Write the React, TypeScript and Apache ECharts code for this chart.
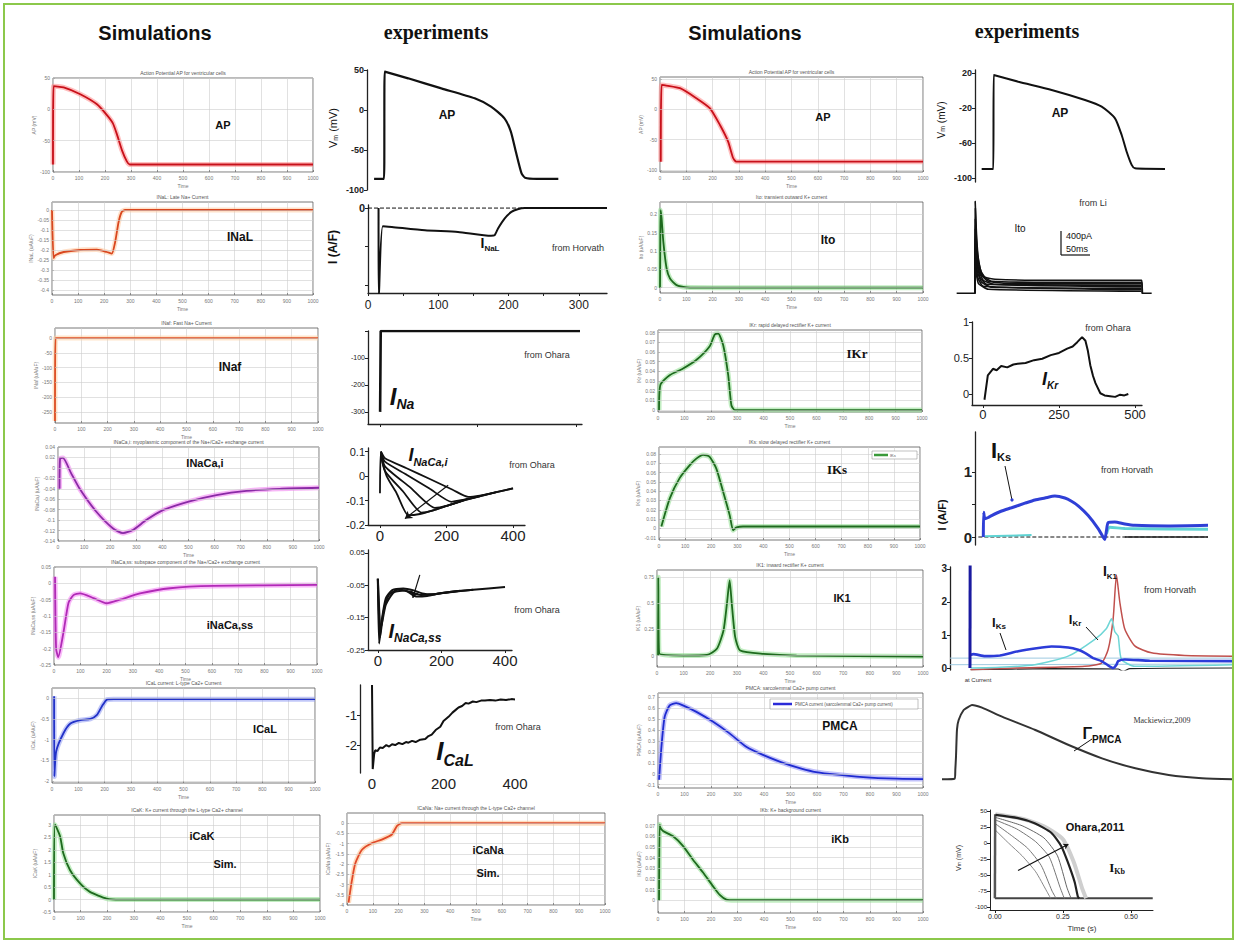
import { useEffect, useRef } from "react";
import * as echarts from "echarts";

// ================= DATA =================
// ---- Simulations, column 1 & 2 (time in ms) ----
const apSimT = [0, 2, 41, 105, 169, 205, 230, 246, 265, 284, 295, 1000];
const apSimV = [-88, 37, 35, 24, 8, -8, -22, -40, -65, -83, -88, -88];
const apSimTicks = [-100, -50, 0, 50];

const inalSimT = [0, 6, 13, 45, 108, 172, 210, 229, 242, 255, 267, 280, 1000];
const inalSimV = [0, -0.24, -0.226, -0.21, -0.2, -0.198, -0.21, -0.218, -0.16, -0.061, -0.01, 0, 0];
const inalSimTicks = [-0.4, -0.35, -0.3, -0.25, -0.2, -0.15, -0.1, -0.05, 0];

const inafSimT = [0, 2, 1000];
const inafSimV = [-280, 0, 0];
const inafSimTicks = [-250, -200, -150, -100, -50, 0];

const nacaiSimT = [6, 8, 19, 50, 83, 147, 211, 249, 287, 338, 402, 504, 607, 722, 849, 1000];
const nacaiSimV = [-0.04, 0.018, 0.019, -0.01, -0.04, -0.084, -0.116, -0.125, -0.119, -0.1, -0.081, -0.064, -0.052, -0.044, -0.04, -0.038];
const nacaiSimTicks = [-0.14, -0.12, -0.1, -0.08, -0.06, -0.04, -0.02, 0, 0.02, 0.04];

const nacassSimT = [4, 8, 16, 36, 55, 74, 99, 150, 200, 251, 327, 442, 607, 1000];
const nacassSimV = [0.02, -0.2, -0.226, -0.15, -0.06, -0.036, -0.031, -0.045, -0.061, -0.05, -0.031, -0.015, -0.008, -0.005];
const nacassSimTicks = [-0.25, -0.2, -0.15, -0.1, -0.05, 0, 0.05];

const icalSimT = [8, 9, 16, 44, 70, 108, 146, 171, 190, 209, 234, 1000];
const icalSimV = [0.05, -1.89, -1.28, -0.84, -0.61, -0.53, -0.5, -0.4, -0.19, -0.03, -0.02, -0.02];
const icalSimTicks = [-2, -1.5, -1, -0.5, 0];

const icakSimT = [0, 4, 23, 35, 60, 98, 135, 198, 250, 1000];
const icakSimV = [0, 3.01, 2.54, 1.86, 1.19, 0.65, 0.31, 0.04, 0, 0];
const icakSimTicks = [-0.5, 0, 0.5, 1, 1.5, 2, 2.5, 3];

const icanaSimT = [6, 19, 32, 58, 97, 135, 174, 194, 213, 1000];
const icanaSimV = [-3.88, -2.8, -1.97, -1.3, -0.97, -0.8, -0.55, -0.13, 0, 0];
const icanaSimTicks = [-4, -3.5, -3, -2.5, -2, -1.5, -1, -0.5, 0];

// ---- Simulations, column 3 ----
const ap3SimT = [3, 6, 76, 139, 190, 228, 259, 278, 290, 1000];
const ap3SimV = [-86, 40, 34.6, 18, 1.6, -25.8, -53, -80, -86, -86];

const itoSimT = [0, 1, 2.5, 6, 12.7, 25, 38, 63, 101, 200, 1000];
const itoSimV = [0, 0.1, 0.212, 0.19, 0.125, 0.053, 0.025, 0.007, 0.001, 0, 0];
const itoSimTicks = [0, 0.05, 0.1, 0.15, 0.2];

const ikrSimT = [4, 9, 44, 95, 146, 196, 215, 228, 247, 266, 278, 291, 1000];
const ikrSimV = [0, 0.026, 0.036, 0.043, 0.052, 0.066, 0.078, 0.079, 0.067, 0.036, 0.005, 0, 0];
const ikrSimTicks = [0, 0.01, 0.02, 0.03, 0.04, 0.05, 0.06, 0.07, 0.08];

const iksSimT = [9, 41, 79, 118, 143, 169, 194, 220, 246, 271, 284, 297, 322, 1000];
const iksSimV = [0.002, 0.032, 0.054, 0.068, 0.075, 0.079, 0.077, 0.064, 0.039, 0.014, -0.002, 0.001, 0.002, 0.002];
const iksSimTicks = [-0.01, 0, 0.01, 0.02, 0.03, 0.04, 0.05, 0.06, 0.07, 0.08];

const ik1SimT = [4, 5, 8, 100, 188, 225, 250, 263, 273, 281, 294, 313, 400, 525, 1000];
const ik1SimV = [0, 0.75, 0.02, 0, 0.005, 0.064, 0.24, 0.5, 0.72, 0.5, 0.176, 0.048, 0.016, 0, -0.01];
const ik1SimTicks = [0, 0.25, 0.5, 0.75];

const pmcaSimT = [4, 13, 25, 44, 69, 94, 145, 208, 270, 333, 396, 459, 522, 585, 648, 774, 899, 1000];
const pmcaSimV = [-0.055, 0.248, 0.52, 0.627, 0.648, 0.627, 0.567, 0.476, 0.37, 0.248, 0.173, 0.112, 0.061, 0.021, 0, -0.03, -0.045, -0.048];
const pmcaSimTicks = [-0.1, 0, 0.1, 0.2, 0.3, 0.4, 0.5, 0.6, 0.7];

const ikbSimT = [4, 6, 9, 19, 57, 94, 132, 170, 208, 233, 258, 290, 1000];
const ikbSimV = [0, 0.071, 0.068, 0.065, 0.06, 0.051, 0.038, 0.026, 0.013, 0.005, 0.0006, 0, 0];
const ikbSimTicks = [0, 0.01, 0.02, 0.03, 0.04, 0.05, 0.06, 0.07];

// ---- Experiments, column 2 ----
const apExp1 = [[10, -86], [24, -86], [25, 48], [58, 39.6], [105, 27], [152, 14.6], [175, 4.2], [194, -10.4], [203, -27], [210, -52], [218, -79], [223, -84.6], [240, -86], [270, -86]];
const apExp1Ticks = [-100, -50, 0, 50];

const inalExp = [[15, 0], [15.5, -2.3], [21, -0.47], [34, -0.49], [81, -0.58], [128, -0.62], [175, -0.72], [180, -0.71], [185, -0.53], [194, -0.28], [204, -0.1], [213, -0.03], [223, 0], [340, 0]];
const inalExpZero = [[0, 0], [340, 0]];
const inalExpXTicks = [0, 50, 100, 150, 200, 250, 300];
const inalExpXLabels = [0, 100, 200, 300];

const inaExp = [[0, -300], [0.3, 0], [99, 0]];
const inaExpYLabels = [-300, -200, -100];

const nacaiExp1 = [[0, -0.07], [3, 0.1], [15, 0.073], [80, 0.032], [150, -0.012], [220, -0.057], [265, -0.085], [300, -0.08], [350, -0.066], [400, -0.05]];
const nacaiExp2 = [[3, 0.1], [15, 0.059], [80, 0.006], [150, -0.052], [215, -0.105], [250, -0.097], [300, -0.082], [350, -0.066], [400, -0.05]];
const nacaiExp3 = [[3, 0.1], [15, 0.04], [90, -0.045], [165, -0.13], [200, -0.122], [250, -0.1], [300, -0.083], [350, -0.066]];
const nacaiExp4 = [[3, 0.09], [15, 0.021], [70, -0.064], [125, -0.149], [160, -0.14], [200, -0.122], [250, -0.1], [300, -0.083]];
const nacaiExp5 = [[3, 0.08], [20, 0.0], [50, -0.07], [85, -0.16], [120, -0.155], [160, -0.14], [200, -0.122], [250, -0.1]];
const nacaiExpYTicks = [-0.2, -0.1, 0, 0.1];
const msTicks = [0, 200, 400];

const nacassExp1 = [[0, -0.03], [4, -0.23], [12, -0.16], [25, -0.09], [45, -0.065], [80, -0.06], [110, -0.065], [140, -0.075], [170, -0.078], [220, -0.072], [300, -0.064], [400, -0.055]];
const nacassExp2 = [[0, -0.03], [7, -0.21], [18, -0.13], [35, -0.08], [65, -0.063], [100, -0.07], [135, -0.08], [175, -0.078], [230, -0.07], [300, -0.064]];
const nacassExp3 = [[0, -0.03], [10, -0.18], [25, -0.11], [50, -0.072], [85, -0.066], [120, -0.085], [155, -0.083], [200, -0.074], [260, -0.067]];
const nacassExpYTicks = [-0.25, -0.15, -0.05, 0.05];

const icalExp = [[0, 0], [2, -2.8], [6, -2.3], [9, -2.17], [15, -2.2], [22, -2.08], [30, -2.1], [40, -2.0], [48, -2.05], [56, -1.97], [65, -2.0], [75, -1.93], [85, -1.97], [95, -1.9], [102, -1.92], [112, -1.86], [122, -1.9], [135, -1.82], [149, -1.8], [158, -1.7], [167, -1.65], [178, -1.5], [191, -1.39], [200, -1.2], [214, -1.06], [225, -0.92], [235, -0.82], [242, -0.75], [252, -0.7], [262, -0.6], [270, -0.62], [282, -0.55], [292, -0.57], [305, -0.52], [316, -0.52], [330, -0.5], [345, -0.52], [360, -0.48], [375, -0.5], [390, -0.47], [400, -0.48]];
const icalExpYTicks = [-2, -1];

// ---- Experiments, column 4 ----
const apExp2 = [[20, -89.7], [55, -89.7], [56, 17.7], [130, 10], [230, 0.6], [330, -10.9], [380, -18.5], [420, -31.8], [440, -50.9], [455, -70], [470, -85], [480, -89], [570, -89.7]];
const apExp2Ticks = [-100, -60, -20, 20];

const itoExpBase = [[5, 0], [60, 0]];
const itoExpTail = [[560, 0], [590, 0]];
const itoExp1 = [[60, 0], [60.5, 92], [63, 70], [66, 50], [70, 35], [78, 22], [90, 16], [120, 14], [300, 13], [560, 13], [562, 0]];
const itoExp2 = [[60, 0], [61, 85], [64, 55], [68, 38], [75, 25], [85, 17], [110, 12], [300, 11], [560, 11], [562, 0]];
const itoExp3 = [[60, 0], [61, 75], [65, 45], [70, 30], [80, 18], [100, 12], [150, 10], [560, 9.5]];
const itoExp4 = [[60, 0], [61, 65], [65, 38], [72, 22], [85, 13], [120, 9], [560, 8]];
const itoExp5 = [[60, 0], [61, 55], [66, 30], [75, 16], [95, 9], [560, 6.5]];
const itoExp6 = [[60, 0], [61, 45], [67, 22], [80, 11], [110, 6], [560, 5]];
const itoExp7 = [[60, 0], [61, 35], [68, 16], [85, 7], [560, 3.5]];
const itoExp8 = [[60, 0], [61, 25], [70, 10], [100, 4], [560, 2]];

const ikrExp = [[5, -0.08], [16, 0.26], [33, 0.35], [45, 0.33], [60, 0.39], [80, 0.37], [100, 0.41], [114, 0.42], [140, 0.43], [168, 0.47], [195, 0.49], [223, 0.54], [250, 0.57], [277, 0.63], [295, 0.66], [310, 0.72], [326, 0.79], [337, 0.74], [345, 0.6], [353, 0.4], [362, 0.25], [370, 0.15], [386, 0.01], [400, -0.02], [418, -0.03], [435, -0.04], [451, -0.01], [465, -0.02], [478, 0]];
const ikrExpXTicks = [0, 250, 500];
const ikrExpYTicks = [0, 0.5, 1];

const iksExpBlue = [[25, 0], [26, 0.38], [30, 0.28], [40, 0.3], [50, 0.33], [80, 0.4], [110, 0.45], [150, 0.52], [180, 0.57], [210, 0.6], [240, 0.63], [270, 0.6], [290, 0.55], [310, 0.48], [340, 0.33], [370, 0.13], [385, 0.0], [390, -0.04], [395, 0.1], [400, 0.22], [420, 0.23], [450, 0.2], [480, 0.18], [580, 0.17], [700, 0.18]];
const iksExpCyan = [[395, 0.05], [405, 0.15], [450, 0.13], [700, 0.12]];
const iksExpCyanStart = [[30, 0.01], [170, 0.03]];
const iksExpBlack = [[450, 0.0], [700, 0.0]];
const iksExpZero = [[10, 0], [700, 0]];
const iksExpYTicks = [0, 0.5, 1];
const iksExpYLabels = [0, 1];

const ik1ExpSpike = [[60, 0], [60.5, 3.2]];
const ik1ExpKs = [[62, 0.4], [70, 0.42], [105, 0.36], [150, 0.38], [205, 0.51], [260, 0.6], [305, 0.65], [355, 0.62], [385, 0.55], [405, 0.46], [430, 0.3], [455, 0.21], [475, 0.08], [490, 0], [500, 0.1], [505, 0.21], [525, 0.26], [600, 0.22], [850, 0.21]];
const ik1ExpKr = [[62, 0.0], [150, 0.02], [255, 0.1], [355, 0.36], [435, 0.87], [470, 1.2], [485, 1.49], [495, 1.1], [505, 0.97], [515, 0.26], [555, 0.05], [850, 0.1]];
const ik1ExpK1 = [[62, -0.05], [200, 0.0], [405, 0.05], [455, 0.15], [475, 0.56], [490, 1.49], [500, 2.82], [510, 2.0], [525, 1.18], [555, 0.67], [605, 0.46], [705, 0.38], [850, 0.36]];
const ik1ExpBlack = [[62, -0.05], [300, -0.02], [505, -0.03], [520, -0.1], [540, -0.02], [850, 0.0]];
const ik1ExpFaint1 = [[0, 0.3], [850, 0.3]];
const ik1ExpFaint2 = [[0, 0.1], [850, 0.12]];
const ik1ExpTicks = [0, 1, 2, 3];

const pmcaExp = [[0, 0], [38, 2], [40, 30], [42, 68], [45, 150], [50, 178], [65, 208], [80, 218], [90, 223], [120, 215], [180, 188], [280, 148], [380, 103], [480, 63], [580, 33], [680, 13], [780, 3], [873, 0]];

const ikbExpBase = [[0, -86.5], [0.58, -86.5]];
const ikbExpUp = [[0, -86.5], [0.001, 45]];
const ikbExpHalo = [[0.002, 45], [0.1, 38], [0.18, 26], [0.25, 6], [0.29, -30], [0.32, -70], [0.335, -86.5]];
const ikbExpThick = [[0.002, 44], [0.085, 39], [0.146, 31], [0.207, 16], [0.244, -5], [0.268, -30], [0.293, -61], [0.305, -84], [0.31, -86.5]];
const ikbExpG1 = [[0.002, 20], [0.05, 0], [0.1, -20], [0.15, -45], [0.19, -75], [0.205, -86.5]];
const ikbExpG2 = [[0.002, 30], [0.06, 12], [0.12, -8], [0.17, -35], [0.21, -75], [0.225, -86.5]];
const ikbExpG3 = [[0.002, 36], [0.08, 22], [0.15, 2], [0.2, -22], [0.24, -70], [0.255, -86.5]];
const ikbExpG4 = [[0.002, 40], [0.1, 27], [0.18, 8], [0.23, -20], [0.265, -70], [0.28, -86.5]];
const ikbExpXTicks = [0, 0.25, 0.5];
const ikbExpYTicks = [-100, -75, -50, -25, 0, 25, 50];

// ================= BUILD =================
const zip = (x: number[], y: number[]) => x.map((v, i) => [v, y[i]]);
const SANS = "Liberation Sans, Arial, sans-serif";
const SERIF = "Liberation Serif, Times New Roman, serif";

function buildOption() {
  const grids: any[] = [];
  const xAxes: any[] = [];
  const yAxes: any[] = [];
  const series: any[] = [];
  const graphics: any[] = [];

  const txt = (x: number, y: number, text: string, o: any = {}) => {
    graphics.push({
      type: "text", x, y, rotation: o.rot || 0, z: 100, silent: true,
      style: {
        text, fill: o.color || "#111", fontSize: o.fs || 10, fontWeight: o.fw || "normal",
        fontStyle: o.it ? "italic" : "normal", fontFamily: o.ff || SANS,
        textAlign: o.align || "center", align: o.align || "center",
        textVerticalAlign: "middle", verticalAlign: "middle", rich: o.rich,
      },
    });
  };
  const subTxt = (x: number, y: number, main: string, s: string, big: number, small: number, o: any = {}) => {
    const base = { fontWeight: "bold", fontStyle: o.it ? "italic" : "normal", fontFamily: o.ff || SANS, fill: "#111", color: "#111" };
    txt(x, y, `{a|${main}}{b|${s}}`, {
      ...o,
      rich: {
        a: { ...base, fontSize: big, lineHeight: big, verticalAlign: "top" },
        b: { ...base, fontSize: small, lineHeight: small, verticalAlign: "top", padding: [Math.round(big * 0.55), 0, 0, 0] },
      },
    });
  };
  const gline = (x1: number, y1: number, x2: number, y2: number, c = "#111", w = 1) => {
    graphics.push({ type: "line", z: 100, silent: true, shape: { x1, y1, x2, y2 }, style: { stroke: c, lineWidth: w } });
  };

  // ---------- simulation panel ----------
  const addSim = (p: any) => {
    const idx = grids.length;
    const [l, t, r, b] = p.box;
    grids.push({ left: l, top: t, width: r - l, height: b - t, show: true, borderColor: "#555", borderWidth: 0.8, backgroundColor: "#fff" });
    xAxes.push({
      type: "value", gridIndex: idx, min: 0, max: 1000, interval: 100,
      axisLine: { show: false, onZero: false },
      axisTick: { show: true, inside: true, length: 2, lineStyle: { color: "#555", width: 0.6 } },
      axisLabel: { fontSize: 5, color: "#777", margin: 3, fontFamily: SANS, formatter: (v: number) => String(v) },
      splitLine: { show: true, lineStyle: { color: "#cdcdcd", width: 0.6 } },
      name: "Time", nameLocation: "middle", nameGap: 11, nameTextStyle: { fontSize: 5, color: "#777", fontFamily: SANS },
    });
    yAxes.push({
      type: "value", gridIndex: idx, min: p.yMin, max: p.yMax,
      axisLine: { show: false, onZero: false },
      axisTick: { show: true, inside: true, length: 2, customValues: p.ticks, lineStyle: { color: "#555", width: 0.6 } },
      axisLabel: { fontSize: 5, color: "#777", margin: 3, customValues: p.ticks, fontFamily: SANS, formatter: (v: number) => String(v) },
      splitLine: { show: false },
      name: p.yName, nameLocation: "middle", nameGap: 17, nameTextStyle: { fontSize: 5, color: "#777", fontFamily: SANS },
    });
    series.push({
      type: "line", xAxisIndex: idx, yAxisIndex: idx, data: [[0, p.ticks[0]]], symbol: "none", silent: true, z: 1,
      lineStyle: { width: 0 },
      markLine: {
        silent: true, symbol: "none", label: { show: false },
        lineStyle: { color: "#cdcdcd", width: 0.6, type: "solid" },
        data: p.ticks.map((v: number) => ({ yAxis: v })),
      },
    });
    const data = zip(p.t, p.v);
    series.push({
      type: "line", xAxisIndex: idx, yAxisIndex: idx, data, symbol: "none", silent: true, z: 2, smooth: 0.2,
      lineStyle: { color: p.halo, width: 5, opacity: 0.55 },
    });
    series.push({
      type: "line", xAxisIndex: idx, yAxisIndex: idx, data, symbol: "none", silent: true, z: 3, smooth: 0.2,
      lineStyle: { color: p.color, width: 1.8 },
    });
    txt((l + r) / 2, t - 5, p.title, { fs: 5, color: "#555" });
    subTxt(p.lx, p.ly, p.label, "", p.lfs || 11, 6, { ff: p.serif ? SERIF : SANS });
    if (p.label2) txt(p.lx2, p.ly2, p.label2, { fs: 11, fw: "bold" });
  };

  // ---------- experiment panel ----------
  const axisOf = (a: any, idx: number) => ({
    type: "value", gridIndex: idx, min: a.min, max: a.max,
    axisLine: { show: !!a.line, onZero: false, lineStyle: { color: "#222", width: a.lw || 1.3 } },
    axisTick: { show: !!a.ticks, customValues: a.ticks, length: a.tl || 3, lineStyle: { color: "#222", width: 1 } },
    axisLabel: { show: !!a.labels, customValues: a.labels, fontSize: a.fs || 10, color: "#222", fontWeight: a.fw || "normal", margin: a.m || 3, formatter: a.fmt, fontFamily: SANS },
    splitLine: { show: false },
  });
  const addExp = (p: any) => {
    const idx = grids.length;
    const [l, t, r, b] = p.box;
    grids.push({ left: l, top: t, width: r - l, height: b - t, show: false });
    xAxes.push(axisOf(p.x, idx));
    yAxes.push(axisOf(p.y, idx));
    p.curves.forEach((c: any) => {
      series.push({
        type: "line", xAxisIndex: idx, yAxisIndex: idx, data: c.d, symbol: "none", silent: true,
        smooth: c.smooth === undefined ? 0.2 : c.smooth, z: c.z || 3,
        lineStyle: { color: c.c || "#111", width: c.w || 2, type: c.dash ? "dashed" : "solid", opacity: c.o || 1 },
        markLine: c.arrow ? {
          silent: true, symbol: ["none", "arrow"], symbolSize: c.as || 7, label: { show: false },
          lineStyle: { color: "#111", width: 1.2, type: "solid" },
          data: [[{ coord: c.arrow[0] }, { coord: c.arrow[1] }]],
        } : undefined,
      });
    });
  };

  // ===== Simulation panels =====
  const RED = { color: "#c8101a", halo: "#ff8a8a" };
  const GREEN = { color: "#1e6a1e", halo: "#8fdf8f" };
  addSim({ box: [53, 78, 313, 172], yMin: -100, yMax: 50, ticks: apSimTicks, t: apSimT, v: apSimV, ...RED, title: "Action Potential AP for ventricular cells", yName: "AP (mV)", label: "AP", lx: 223, ly: 125 });
  addSim({ box: [52, 202, 313, 295], yMin: -0.425, yMax: 0.04, ticks: inalSimTicks, t: inalSimT, v: inalSimV, color: "#d9471f", halo: "#ffc99e", title: "INaL: Late Na+ Current", yName: "INaL (uA/uF)", label: "INaL", lx: 240, ly: 237, lfs: 12 });
  addSim({ box: [55, 328, 318, 423], yMin: -287, yMax: 34, ticks: inafSimTicks, t: inafSimT, v: inafSimV, color: "#df4f25", halo: "#ffd0a0", title: "INaf: Fast Na+ Current", yName: "INaf (uA/uF)", label: "INaf", lx: 230, ly: 367, lfs: 12 });
  addSim({ box: [58, 447, 319, 541], yMin: -0.14, yMax: 0.04, ticks: nacaiSimTicks, t: nacaiSimT, v: nacaiSimV, color: "#8a2aa6", halo: "#f07cf0", title: "INaCa,i: myoplasmic component of the Na+/Ca2+ exchange current", yName: "INaCa,i (uA/uF)", label: "INaCa,i", lx: 205, ly: 463 });
  addSim({ box: [54, 567, 317, 665], yMin: -0.25, yMax: 0.05, ticks: nacassSimTicks, t: nacassSimT, v: nacassSimV, color: "#b02ab6", halo: "#f480f4", title: "INaCa,ss: subspace component of the Na+/Ca2+ exchange current", yName: "INaCa,ss (uA/uF)", label: "iNaCa,ss", lx: 230, ly: 625 });
  addSim({ box: [52, 688, 315, 783], yMin: -2.05, yMax: 0.25, ticks: icalSimTicks, t: icalSimT, v: icalSimV, color: "#2232c8", halo: "#8f9af2", title: "ICaL current: L-type Ca2+ Current", yName: "ICaL (uA/uF)", label: "ICaL", lx: 265, ly: 729 });
  addSim({ box: [54, 815, 320, 912], yMin: -0.5, yMax: 3.4, ticks: icakSimTicks, t: icakSimT, v: icakSimV, ...GREEN, title: "ICaK: K+ current through the L-type Ca2+ channel", yName: "ICaK (uA/uF)", label: "iCaK", lx: 202, ly: 836, label2: "Sim.", lx2: 225, ly2: 864 });
  addSim({ box: [347, 813, 605, 905], yMin: -4, yMax: 0.5, ticks: icanaSimTicks, t: icanaSimT, v: icanaSimV, color: "#e04a2a", halo: "#ffc08a", title: "ICaNa: Na+ current through the L-type Ca2+ channel", yName: "ICaNa (uA/uF)", label: "iCaNa", lx: 488, ly: 850, label2: "Sim.", lx2: 488, ly2: 873 });

  addSim({ box: [660, 77, 923, 172], yMin: -103, yMax: 53, ticks: apSimTicks, t: ap3SimT, v: ap3SimV, ...RED, title: "Action Potential AP for ventricular cells", yName: "AP (mV)", label: "AP", lx: 823, ly: 117 });
  addSim({ box: [660, 202, 923, 293], yMin: -0.0145, yMax: 0.234, ticks: itoSimTicks, t: itoSimT, v: itoSimV, ...GREEN, title: "Ito: transient outward K+ current", yName: "Ito (uA/uF)", label: "Ito", lx: 828, ly: 240, lfs: 12 });
  addSim({ box: [658, 330, 922, 412], yMin: -0.002, yMax: 0.0827, ticks: ikrSimTicks, t: ikrSimT, v: ikrSimV, ...GREEN, title: "IKr: rapid delayed rectifier K+ current", yName: "IKr (uA/uF)", label: "IKr", lx: 857, ly: 353, lfs: 13, serif: true });
  addSim({ box: [659, 447, 920, 540], yMin: -0.0125, yMax: 0.0875, ticks: iksSimTicks, t: iksSimT, v: iksSimV, ...GREEN, title: "IKs: slow delayed rectifier K+ current", yName: "IKs (uA/uF)", label: "IKs", lx: 837, ly: 469, lfs: 13, serif: true });
  addSim({ box: [657, 570, 923, 667], yMin: -0.11, yMax: 0.82, ticks: ik1SimTicks, t: ik1SimT, v: ik1SimV, ...GREEN, title: "IK1: inward rectifier K+ current", yName: "IK1 (uA/uF)", label: "IK1", lx: 842, ly: 598 });
  addSim({ box: [658, 693, 923, 788], yMin: -0.13, yMax: 0.74, ticks: pmcaSimTicks, t: pmcaSimT, v: pmcaSimV, color: "#1f2bd0", halo: "#9090f5", title: "PMCA: sarcolemmal Ca2+ pump current", yName: "PMCA (uA/uF)", label: "PMCA", lx: 840, ly: 726, lfs: 12 });
  addSim({ box: [658, 815, 923, 913], yMin: -0.012, yMax: 0.08, ticks: ikbSimTicks, t: ikbSimT, v: ikbSimV, ...GREEN, title: "IKb: K+ background current", yName: "IKb (uA/uF)", label: "iKb", lx: 840, ly: 839 });

  // legends inside sim panels
  graphics.push({ type: "rect", z: 90, shape: { x: 872, y: 451, width: 45, height: 8 }, style: { fill: "#fff", stroke: "#999", lineWidth: 0.6 } });
  gline(874, 455, 888, 455, "#3a9a3a", 2.5);
  txt(890, 455, "IKs", { fs: 4, color: "#555", align: "left" });
  graphics.push({ type: "rect", z: 90, shape: { x: 770, y: 699, width: 148, height: 10 }, style: { fill: "#fff", stroke: "#999", lineWidth: 0.6 } });
  gline(773, 704, 792, 704, "#2b2bd8", 2.5);
  txt(795, 704, "PMCA current (sarcolemmal Ca2+ pump current)", { fs: 4.5, color: "#555", align: "left" });

  // ===== Experiment panels, column 2 =====
  addExp({ box: [367, 70, 615, 190], x: { min: 0, max: 350 }, y: { min: -100, max: 50, line: true, ticks: apExp1Ticks, labels: apExp1Ticks, fs: 9, fw: "bold" }, curves: [{ d: apExp1, w: 2.2 }] });
  txt(447, 115, "AP", { fs: 12, fw: "bold" });
  txt(333, 128, "{a|V}{b|m}{a| (mV)}", { rot: Math.PI / 2, rich: { a: { fontSize: 11, fontFamily: SANS, fill: "#111" }, b: { fontSize: 7, fontFamily: SANS, fill: "#111", verticalAlign: "bottom" } } });

  addExp({ box: [368, 205, 607, 293], x: { min: 0, max: 340, line: true, ticks: inalExpXTicks, labels: inalExpXLabels, fs: 12, m: 6 }, y: { min: -2.21, max: 0.08, line: true, ticks: [-2, -1, 0], labels: [0], fs: 11, fw: "bold" }, curves: [{ d: inalExp, w: 2 }, { d: inalExpZero, w: 1, dash: true, smooth: false }] });
  txt(333, 247, "I (A/F)", { rot: Math.PI / 2, fs: 12, fw: "bold" });
  subTxt(490, 243, "I", "NaL", 14, 8);
  txt(578, 248, "from Horvath", { fs: 9, color: "#333" });

  addExp({ box: [368, 331, 582, 424], x: { min: -6, max: 100, line: true, ticks: [0, 48, 97] }, y: { min: -345, max: 0, line: true, ticks: [-300, -200, -100, 0], labels: inaExpYLabels, fs: 7 }, curves: [{ d: inaExp, w: 2.6, smooth: false }] });
  subTxt(402, 396, "I", "Na", 24, 14, { it: true });
  txt(547, 355, "from Ohara", { fs: 9, color: "#333" });

  addExp({
    box: [368, 448, 525, 525], x: { min: -36, max: 436, line: true, ticks: msTicks, labels: msTicks, fs: 15 }, y: { min: -0.2, max: 0.115, line: true, ticks: nacaiExpYTicks, labels: nacaiExpYTicks, fs: 11 },
    curves: [{ d: nacaiExp1, w: 1.8, arrow: [[205, -0.037], [75, -0.174]] }, { d: nacaiExp2, w: 1.8 }, { d: nacaiExp3, w: 1.8 }, { d: nacaiExp4, w: 1.8 }, { d: nacaiExp5, w: 1.8 }],
  });
  subTxt(428, 455, "I", "NaCa,i", 18, 11, { it: true });
  txt(532, 465, "from Ohara", { fs: 9, color: "#333" });

  addExp({
    box: [368, 550, 512, 650], x: { min: -31, max: 422, line: true, ticks: msTicks, labels: msTicks, fs: 15 }, y: { min: -0.25, max: 0.059, line: true, ticks: nacassExpYTicks, labels: nacassExpYTicks, fs: 8 },
    curves: [{ d: nacassExp1, w: 2, arrow: [[132, -0.018], [110, -0.089]] }, { d: nacassExp2, w: 2 }, { d: nacassExp3, w: 2 }],
  });
  subTxt(415, 631, "I", "NaCa,ss", 20, 12, { it: true });
  txt(537, 610, "from Ohara", { fs: 9, color: "#333" });

  addExp({ box: [360, 685, 520, 773], x: { min: -33.6, max: 414, labels: msTicks, fs: 15 }, y: { min: -2.93, max: 0, line: true, ticks: icalExpYTicks, labels: icalExpYTicks, fs: 13 }, curves: [{ d: icalExp, w: 2, smooth: false }] });
  subTxt(455, 751, "I", "CaL", 26, 16, { it: true });
  txt(518, 727, "from Ohara", { fs: 9, color: "#333" });

  // ===== Experiment panels, column 4 =====
  addExp({ box: [975, 70, 1175, 182], x: { min: 0, max: 600 }, y: { min: -104.6, max: 23.4, line: true, ticks: apExp2Ticks, labels: apExp2Ticks, fs: 9, fw: "bold" }, curves: [{ d: apExp2, w: 2 }] });
  txt(1060, 113, "AP", { fs: 12, fw: "bold" });
  txt(941, 120, "{a|V}{b|m}{a| (mV)}", { rot: Math.PI / 2, rich: { a: { fontSize: 10, fontFamily: SANS, fill: "#111" }, b: { fontSize: 7, fontFamily: SANS, fill: "#111", verticalAlign: "bottom" } } });

  addExp({
    box: [955, 195, 1155, 295], x: { min: 0, max: 600 }, y: { min: -1.7, max: 98.3 },
    curves: [itoExpBase, itoExpTail, itoExp1, itoExp2, itoExp3, itoExp4, itoExp5, itoExp6, itoExp7, itoExp8].map((d) => ({ d, w: 1.6, smooth: 0.15 })),
  });
  txt(1093, 203, "from Li", { fs: 9, color: "#333" });
  txt(1020, 228, "Ito", { fs: 10 });
  gline(1061, 231, 1061, 255, "#111", 1.2);
  gline(1061, 255, 1090, 255, "#111", 1.2);
  txt(1066, 236, "400pA", { fs: 9, align: "left" });
  txt(1066, 249, "50ms", { fs: 9, align: "left" });

  addExp({ box: [972, 322, 1142, 405], x: { min: -36, max: 523, line: true, ticks: ikrExpXTicks, labels: ikrExpXTicks, fs: 13 }, y: { min: -0.153, max: 1, line: true, ticks: ikrExpYTicks, labels: ikrExpYTicks, fs: 11 }, curves: [{ d: ikrExp, w: 2, smooth: false }] });
  subTxt(1050, 379, "I", "Kr", 18, 10, { it: true });
  txt(1108, 328, "from Ohara", { fs: 9, color: "#333" });

  addExp({
    box: [975, 432, 1208, 545], x: { min: 0, max: 700 }, y: { min: -0.123, max: 1.615, line: true, ticks: iksExpYTicks, labels: iksExpYLabels, fs: 15, fw: "bold" },
    curves: [
      { d: iksExpZero, w: 1, dash: true, smooth: false },
      { d: iksExpCyanStart, w: 2, c: "#5fd3d3" },
      { d: iksExpCyan, w: 3, c: "#5fd3d3" },
      { d: iksExpBlack, w: 1.5, c: "#222" },
      { d: iksExpBlue, w: 3, c: "#2f3fd6" },
    ],
  });
  txt(942, 515, "I (A/F)", { rot: Math.PI / 2, fs: 11, fw: "bold" });
  subTxt(1001, 450, "I", "Ks", 22, 11);
  gline(1005, 466, 1012, 500, "#111", 1);
  graphics.push({ type: "circle", z: 100, shape: { cx: 1012, cy: 500, r: 1.6 }, style: { fill: "#2f3fd6" } });
  txt(1127, 470, "from Horvath", { fs: 9, color: "#333" });

  addExp({
    box: [950, 567, 1233, 670], x: { min: 0, max: 850 }, y: { min: -0.06, max: 3.06, line: true, ticks: ik1ExpTicks, labels: ik1ExpTicks, fs: 10, fw: "bold" },
    curves: [
      { d: ik1ExpFaint1, w: 1, c: "#9ecae1", smooth: false },
      { d: ik1ExpFaint2, w: 1, c: "#9ecae1", smooth: false },
      { d: ik1ExpBlack, w: 1.2, c: "#222" },
      { d: ik1ExpK1, w: 1.5, c: "#c0504d" },
      { d: ik1ExpKr, w: 1.5, c: "#6fd6d6" },
      { d: ik1ExpKs, w: 2.6, c: "#2c3cd8" },
      { d: ik1ExpSpike, w: 3, c: "#1a1aa0", smooth: false },
    ],
  });
  subTxt(1110, 571, "I", "K1", 14, 8);
  subTxt(999, 622, "I", "Ks", 13, 8);
  subTxt(1075, 619, "I", "Kr", 13, 8);
  gline(1000, 633, 1006, 650, "#111", 1);
  gline(1086, 627, 1098, 640, "#111", 1);
  txt(1170, 590, "from Horvath", { fs: 9, color: "#333" });
  txt(978, 680, "at Current", { fs: 6, color: "#333" });

  addExp({ box: [942, 700, 1235, 785], x: { min: 0, max: 879 }, y: { min: -17, max: 238 }, curves: [{ d: pmcaExp, w: 2, c: "#333" }] });
  txt(1162, 720, "Mackiewicz,2009", { fs: 8, ff: SERIF, color: "#333" });
  subTxt(1102, 733, "Γ", "PMCA", 16, 10);
  gline(1092, 739, 1074, 751, "#111", 1);

  addExp({
    box: [990, 810, 1153, 910],
    x: { min: -0.018, max: 0.581, line: true, lw: 1, ticks: ikbExpXTicks, labels: ikbExpXTicks, fs: 7, fmt: (v: number) => v.toFixed(2) },
    y: { min: -104.7, max: 51.6, line: true, lw: 1, ticks: ikbExpYTicks, labels: ikbExpYTicks, fs: 6 },
    curves: [
      { d: ikbExpBase, w: 2, c: "#444", smooth: false },
      { d: ikbExpHalo, w: 4, c: "#cfcfcf" },
      { d: ikbExpG1, w: 1, c: "#888" },
      { d: ikbExpG2, w: 1, c: "#777" },
      { d: ikbExpG3, w: 1, c: "#777" },
      { d: ikbExpG4, w: 1, c: "#666" },
      { d: ikbExpUp, w: 2.5, c: "#555", smooth: false },
      { d: ikbExpThick, w: 2.2, c: "#222", arrow: [[0.085, -43], [0.27, -2]], as: 5 },
    ],
  });
  txt(1095, 827, "Ohara,2011", { fs: 11, fw: "bold" });
  subTxt(1117, 867, "I", "Kb", 13, 8, { ff: SERIF });
  txt(1082, 928, "Time (s)", { fs: 8, color: "#333" });
  txt(958, 858, "{a|V}{b|m}{a| (mV)}", { rot: Math.PI / 2, rich: { a: { fontSize: 7, fontFamily: SANS, fill: "#333" }, b: { fontSize: 5, fontFamily: SANS, fill: "#333", verticalAlign: "bottom" } } });

  // ===== Headings & frame =====
  txt(155, 33, "Simulations", { fs: 20, fw: "bold", ff: SANS });
  txt(436, 32, "experiments", { fs: 20, fw: "bold", ff: SERIF });
  txt(745, 33, "Simulations", { fs: 20, fw: "bold", ff: SANS });
  txt(1027, 31, "experiments", { fs: 20, fw: "bold", ff: SERIF });
  graphics.push({ type: "rect", z: 110, silent: true, shape: { x: 4, y: 4, width: 1229, height: 935 }, style: { fill: "none", stroke: "#8cc84b", lineWidth: 2 } });

  return {
    animation: false,
    backgroundColor: "#fff",
    grid: grids,
    xAxis: xAxes,
    yAxis: yAxes,
    series,
    graphic: graphics,
  };
}

export default function App() {
  const ref = useRef<HTMLDivElement>(null);
  useEffect(() => {
    const chart = echarts.init(ref.current as HTMLDivElement, null, { renderer: "svg" });
    chart.setOption(buildOption() as any);
    return () => chart.dispose();
  }, []);
  return <div ref={ref} style={{ position: "absolute", left: 0, top: 0, width: 1238, height: 944, background: "#fff" }} />;
}
